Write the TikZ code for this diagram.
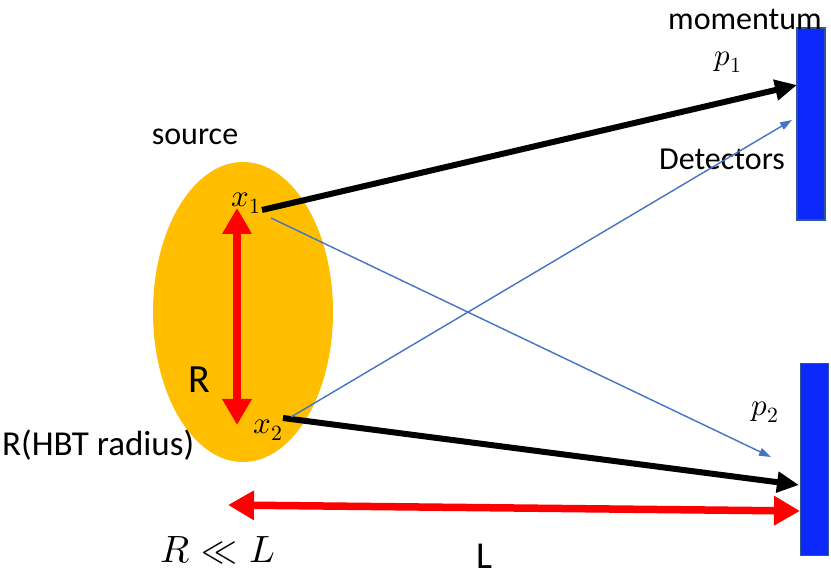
\documentclass[tikz,border=0pt]{standalone}
\usepackage{fontspec}
\usepackage{unicode-math}
\setmainfont{Carlito}
\setmathfont{Latin Modern Math}
\usetikzlibrary{arrows.meta,shapes.geometric}
\definecolor{srcgold}{RGB}{255,190,0}
\definecolor{detblue}{RGB}{12,40,250}
\definecolor{detedge}{RGB}{47,85,151}
\definecolor{thinblue}{RGB}{68,114,196}
\definecolor{arrred}{RGB}{255,0,0}
\begin{document}
\begin{tikzpicture}[x=1pt,y=-1pt,
  lbl/.style={inner sep=0pt,font=\fontsize{32}{36}\selectfont},
  mlbl/.style={inner sep=0pt,font=\fontsize{31}{35}\selectfont},
  detbox/.style={draw=detedge,line width=1.2pt,fill=detblue,minimum width=28pt,inner sep=0pt},
  blackray/.style={line width=6pt,-{Triangle[length=22pt,width=20pt]}},
  thinray/.style={draw=thinblue,line width=1.4pt,-{Triangle[length=12pt,width=8pt]}},
  redarr/.style={draw=arrred,line width=7.5pt,{Triangle[length=26pt,width=28pt]}-{Triangle[length=26pt,width=28pt]}}
]
\useasboundingbox (0,0) rectangle (831,580);
% source
\node[ellipse,fill=srcgold,minimum width=180pt,minimum height=300pt,inner sep=0pt] (src) at (243,312) {};
\node[lbl] (srclbl) at (195,137) {source};
\node[mlbl] (x1) at (246,203) {$x_1$};
\node[mlbl] (x2) at (268,430) {$x_2$};
\node[inner sep=0pt,font=\fontsize{40}{44}\selectfont] (Rlbl) at (199,380) {R};
\node[inner sep=0pt,font=\fontsize{35}{40}\selectfont,anchor=west] (hbt) at (2,445) {R(HBT radius)};
% detectors
\node[detbox,minimum height=192pt] (det1) at (811,124) {};
\node[detbox,minimum height=192pt,anchor=north west] (det2) at (800,363) {};
\node[lbl] (mom) at (745,20) {momentum};
\node[mlbl] (p1) at (728,62) {$p_1$};
\node[lbl] (detlbl) at (722,159) {Detectors};
\node[mlbl] (p2) at (765,412) {$p_2$};
\node[inner sep=0pt,font=\fontsize{38}{42}\selectfont] (RL) at (218,551) {$R \ll L$};
\node[inner sep=0pt,font=\fontsize{38}{42}\selectfont] (Llbl) at (484,556) {L};
% ray endpoints
\coordinate (s1) at (262,210);
\coordinate (s1b) at (271,218);
\coordinate (s2) at (283,418);
\coordinate (s2b) at (291,417);
\coordinate (t1) at (797,85);
\coordinate (t1b) at (792,120);
\coordinate (t2) at (799,485);
\coordinate (t2b) at (771,457);
\coordinate (ra) at (237,208);
\coordinate (rb) at (237,425);
\coordinate (la) at (228,505);
\coordinate (lb) at (800,511);
% rays
\draw[blackray] (s1) -- (t1);
\draw[blackray] (s2) -- (t2);
\draw[thinray] (s1b) -- (t2b);
\draw[thinray] (s2b) -- (t1b);
% dimension arrows
\draw[redarr] (ra) -- (rb);
\draw[redarr] (la) -- (lb);
\end{tikzpicture}
\end{document}
